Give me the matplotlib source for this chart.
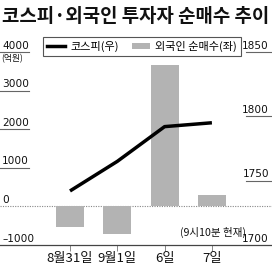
import matplotlib
matplotlib.use("Agg")
import matplotlib.pyplot as plt
from matplotlib.lines import Line2D
from matplotlib.patches import Patch

plt.rcParams['font.family'] = ['Noto Sans CJK KR', 'DejaVu Sans']

# ---- data ----
categories = ["8월31일", "9월1일", "6일", "7일"]
foreign_net = [-530, -710, 3660, 300]          # 외국인 순매수 (억원), left axis
kospi = [1742, 1765, 1792, 1795]               # 코스피, right axis
left_ticks = [4000, 3000, 2000, 1000, 0, -1000]
right_ticks = [1850, 1800, 1750, 1700]
title = "코스피·외국인 투자자 순매수 추이"
note = "(9시10분 현재)"
unit = "(억원)"

W, H = 272, 266
fig = plt.figure(figsize=(W / 100, H / 100), dpi=100)

ax_bottom_px, ax_top_px = 245, 38
ax = fig.add_axes([0, (H - ax_bottom_px) / H, 1, (ax_bottom_px - ax_top_px) / H])
ax2 = ax.twinx()

# scales (both axes share the same px per unit ratio)
px_per_left = (ax_bottom_px - 52) / 5000.0
left_top = 4000 + (52 - ax_top_px) / px_per_left
ax.set_ylim(-1000, left_top)
px_per_right = (ax_bottom_px - 52) / 150.0
right_top = 1850 + (52 - ax_top_px) / px_per_right
ax2.set_ylim(1700, right_top)

x = list(range(len(categories)))
spacing = 47.3
ax.set_xlim(-70 / spacing, -70 / spacing + W / spacing)

bar_color = '#b3b3b3'
ax.bar(x, foreign_net, width=0.59, color=bar_color, zorder=2)
ax2.plot(x, kospi, color='black', lw=2.5, solid_capstyle='butt', zorder=3)

# spines / ticks
for a in (ax, ax2):
    for s in ('top', 'left', 'right'):
        a.spines[s].set_visible(False)
    a.set_yticks([])
ax2.spines['bottom'].set_visible(False)
ax.spines['bottom'].set_color('#444444')
ax.spines['bottom'].set_linewidth(0.9)
ax.set_xticks(x)
ax.set_xticklabels(categories, fontsize=9.5, color='#111111')
ax.tick_params(axis='x', direction='out', length=4, width=0.7, color='#888888', pad=1)

# zero dotted line
ax.axhline(0, color='#888888', lw=0.8, ls=(0, (1, 1.2)), zorder=1)

# left labels with underlines
ltr = ax.get_yaxis_transform()
for v in left_ticks:
    ax.annotate(str(v).replace('-', '\u2013'), xy=(2 / W, v), xycoords=ltr,
                xytext=(0, 1), textcoords='offset points',
                ha='left', va='bottom', fontsize=7.6, color='#111111',
                family=['DejaVu Sans'])
    if v > 0:
        ax.plot([0, 29 / W], [v, v], transform=ltr, color='#666666', lw=0.8,
                clip_on=False)
ax.annotate(unit, xy=(1 / W, 4000), xycoords=ltr, xytext=(0, -1.5),
            textcoords='offset points', ha='left', va='top', fontsize=6.3,
            color='#111111')

# right labels with underlines
rtr = ax2.get_yaxis_transform()
for v in right_ticks:
    ax2.annotate(str(v), xy=(269 / W, v), xycoords=rtr, xytext=(0, 1),
                 textcoords='offset points', ha='right', va='bottom',
                 fontsize=7.6, color='#111111', family=['DejaVu Sans'])
    if v > 1700:
        ax2.plot([246 / W, 1], [v, v], transform=rtr, color='#666666', lw=0.8,
                 clip_on=False)

# note
fig.text(246 / W, (H - 232) / H, note, ha='right', va='center', fontsize=7.6,
         color='#111111')

# title
fig.text(0.5, 1 - 17 / H, title, ha='center', va='center', fontsize=13.6,
         fontweight='bold', color='#111111')

# legend
handles = [Line2D([0], [0], color='black', lw=2.5),
           Patch(facecolor=bar_color, edgecolor='none')]
leg = ax2.legend(handles, ["코스피(우)", "외국인 순매수(좌)"], ncol=2,
                 loc='upper left', bbox_to_anchor=(43 / W, 1 - 37 / H),
                 bbox_transform=fig.transFigure, borderaxespad=0,
                 fontsize=8, frameon=True, fancybox=False, framealpha=1,
                 edgecolor='#555555', handlelength=1.6, handleheight=0.5,
                 handletextpad=0.5, columnspacing=1.2, borderpad=0.35)
leg.get_frame().set_linewidth(0.8)

fig.savefig("out.png", dpi=100)
